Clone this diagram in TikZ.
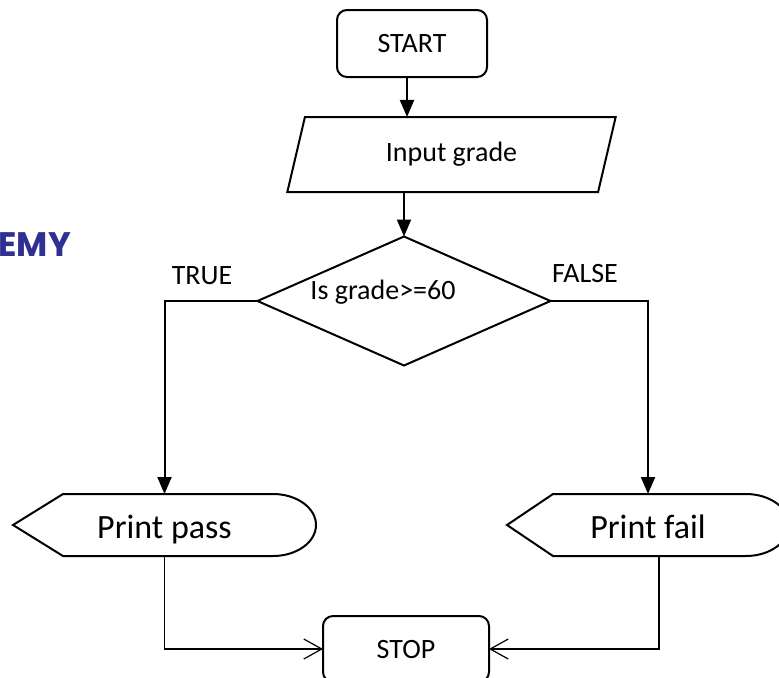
\documentclass[tikz,border=0pt]{standalone}
\usepackage{fontspec}
\setmainfont{Carlito}
\newfontfamily\wmfont{Poppins}
\usepackage{tikz}
\usetikzlibrary{shapes.geometric}
\usetikzlibrary{calc}
\usetikzlibrary{arrows.meta}
\definecolor{BLACK}{HTML}{000000}
\definecolor{NAVY}{HTML}{2E3192}

\begin{document}
\begin{tikzpicture}[x=0.5pt, y=0.5pt,
    txt/.style={BLACK, font=\fontsize{14}{16}\selectfont, inner sep=0pt, outer sep=0pt},
    term/.style={txt, draw, line width=1pt, rounded corners=5pt, minimum height=33.5pt},
    io/.style={txt, draw, line width=1pt, trapezium, trapezium left angle=72, trapezium right angle=108, trapezium stretches=true, minimum width=165.5pt, minimum height=37.5pt},
    decision/.style={BLACK, draw, line width=1pt, diamond, minimum width=146.5pt, minimum height=64.5pt, inner sep=0pt, outer sep=0pt},
    disp/.style={txt, font=\fontsize{17}{19}\selectfont, text height=16pt, text depth=3pt, minimum height=31pt},
    arr/.style={BLACK, line width=1pt, -{Triangle[length=8.5pt, width=7pt]}},
    thinarr/.style={BLACK, line width=0.6pt, -{Straight Barb[length=9pt, width=10pt]}}]
    \path[use as bounding box, fill=white] (0,0) rectangle (779,677);
    % watermark cut off at the left edge
    \node[NAVY, font=\wmfont\bfseries\fontsize{17}{19}\selectfont, inner sep=0pt, anchor=base west] (wm) at (-2,421) {EMY};
    \node[term, minimum width=75pt] (start) at (412,633.5) {START};
    \node[io] (input) at (451.5,522.5) {Input grade};
    \node[decision] (dec) at (404,376) {};
    \node[txt] (dectext) at ([xshift=-10.5pt, yshift=4.5pt]dec.center) {Is grade>=60};
    \node[txt] (true) at (202,401) {TRUE};
    \node[txt] (false) at (585,403) {FALSE};
    \node[disp, minimum width=151.5pt] (pass) at (164.5,152) {Print pass};
    \node[disp, minimum width=141pt] (fail) at (648,152) {Print fail};
    \node[term, minimum width=83pt, minimum height=33pt] (stop) at (406,28) {STOP};
    % display outlines
    \foreach \n/\s in {pass/50, fail/46} {
        \draw[BLACK, line width=1pt] (\n.west) -- ($(\n.north west)+(\s,0)$) -- ($(\n.north east)+(-43,0)$)
            arc[start angle=90, end angle=-90, x radius=21.5pt, y radius=15.5pt] -- ($(\n.south west)+(\s,0)$) -- cycle;
    }
    \draw[arr] ([xshift=-2.5pt]start.south) -- ([xshift=-2.5pt]start.south |- input.north);
    \draw[arr] (input.south -| dec.north) -- (dec.north);
    \draw[arr] (dec.west) -| (pass.north);
    \draw[arr] (dec.east) -| (fail.north);
    \draw[thinarr] (pass.south) |- (stop.west);
    \draw[thinarr] ([xshift=5.5pt]fail.south) |- (stop.east);
\end{tikzpicture}
\end{document}
